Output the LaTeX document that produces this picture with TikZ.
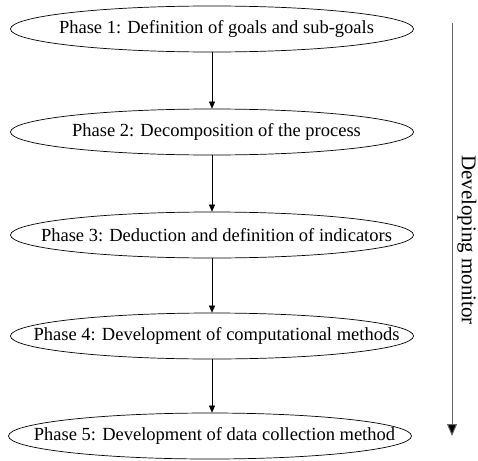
\documentclass[tikz,border=0pt]{standalone}
\usepackage{fontspec}
\setmainfont{Liberation Serif}
\usetikzlibrary{shapes.geometric,arrows.meta}
\newcommand{\phasetext}[1]{\makebox[0pt][c]{\hspace{9pt}#1}}
\begin{document}
\begin{tikzpicture}[x=1pt,y=-1pt]
\tikzset{
  phase/.style={draw, ellipse, line width=0.7pt, minimum width=403pt, minimum height=46pt, inner sep=0pt, font=\fontsize{18.5}{20}\selectfont},
  flow/.style={line width=0.6pt, -{Triangle[length=7pt,width=6pt]}},
  side/.style={draw=black!60, line width=1pt, -{Triangle[length=12pt,width=10pt,fill=black]}}
}
\useasboundingbox (0,0) rectangle (478,460);
\node[phase] (p1) at (212,29) {\phasetext{Phase 1: Definition of goals and sub-goals}};
\node[phase] (p2) at (212,132) {\phasetext{Phase 2: Decomposition of the process}};
\node[phase] (p3) at (212,235) {\phasetext{Phase 3: Deduction and definition of indicators}};
\node[phase] (p4) at (212,336) {\phasetext{Phase 4: Development of computational methods}};
\node[phase] (p5) at (210,436) {\phasetext{Phase 5: Development of data collection method}};
\draw[flow] (p1) -- (p2);
\draw[flow] (p2) -- (p3);
\draw[flow] (p3) -- (p4);
\draw[flow] (p4) -- (p5.north -| p4.south);
\coordinate (a) at (452,23);
\coordinate (b) at (452,436);
\draw[side] (a) -- (b);
\node[rotate=-90, font=\fontsize{21}{23}\selectfont, inner sep=0pt] (lab) at (467,240) {Developing monitor};
\end{tikzpicture}
\end{document}
